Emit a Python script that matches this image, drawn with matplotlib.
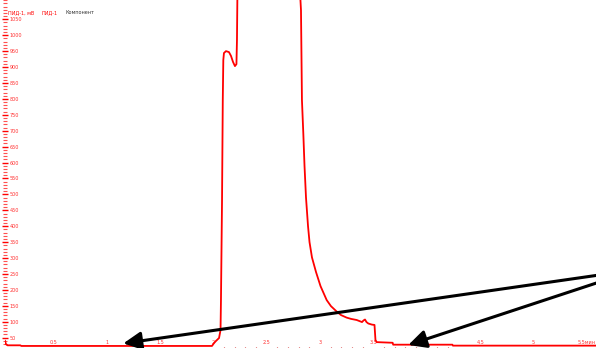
import numpy as np
import matplotlib
matplotlib.use('Agg')
import matplotlib.pyplot as plt
from matplotlib.ticker import MultipleLocator, FixedLocator

# chromatogram trace (time in min, signal in mV)
time_min = [0.047, 0.055, 0.07, 0.19, 0.2, 1.0, 1.987, 2.006, 2.024, 2.053,
            2.067, 2.071, 2.081, 2.088, 2.093, 2.099, 2.118, 2.146, 2.165, 2.184,
            2.202, 2.216, 2.221, 2.23, 2.5, 2.81, 2.816, 2.821, 2.830, 2.843,
            2.854, 2.868, 2.887, 2.901, 2.924, 2.962, 3.004, 3.062, 3.102, 3.156,
            3.196, 3.249, 3.290, 3.343, 3.393, 3.407, 3.421, 3.435, 3.452, 3.486,
            3.510, 3.519, 3.53, 3.68, 3.685, 4.24, 4.245, 5.6]
signal_mv = [40, 30, 26, 26, 24, 24, 24, 33, 39.6, 48.9,
             74, 168, 482, 796, 922, 944, 950, 947, 935, 916,
             903, 909, 985, 1300, 3000, 1300, 1110, 1079, 796, 690,
             590, 490, 400, 350, 302, 256, 212, 168, 149, 132,
             121, 113, 109, 105.5, 99, 104, 107, 99, 94.5, 91,
             90, 43, 36, 34, 28, 28, 25, 25]

x_tick_values = [0.5, 1, 1.5, 2, 2.5, 3, 3.5, 4, 4.5, 5, 5.5]
x_tick_labels = ['0.5', '1', '1.5', '2', '2.5', '3', '3.5', '4', '4.5', '5', '5.5мин']
y_tick_values = list(range(50, 1051, 50))

header_texts = ['ПИД-1, мВ', 'ПИД-1', 'Компонент']
header_colors = ['red', 'red', '#333333']

arrow_tails = [(5.62, 247), (5.62, 225)]
arrow_heads = [(1.156, 32), (3.827, 27)]

W, H = 596, 348
fig = plt.figure(figsize=(W / 100, H / 100), dpi=100)
ax = fig.add_axes([5 / W, 1 / H, 591 / W, 347 / H])

ax.plot(time_min, signal_mv, color='red', linewidth=1.3)

ax.set_xlim(0.0469, 5.586)
ax.set_ylim(20.7, 1110.6)

for s in ax.spines.values():
    s.set_visible(False)

# y axis: ticks crossing the (hidden) spine, labels inside
ax.yaxis.set_major_locator(FixedLocator(y_tick_values))
ax.yaxis.set_minor_locator(MultipleLocator(10))
ax.tick_params(axis='y', which='major', direction='inout', length=4, width=1,
               color='red', labelcolor='#ff3030', labelsize=3.5, pad=-5.2)
ax.tick_params(axis='y', which='minor', direction='inout', length=2.6, width=0.8,
               color='#ff5050')
for lab in ax.get_yticklabels():
    lab.set_horizontalalignment('left')

# x axis: labels above the baseline
ax.set_xticks(x_tick_values)
ax.set_xticklabels(x_tick_labels)
ax.xaxis.set_minor_locator(FixedLocator(np.arange(2.0, 4.25, 0.1)))
ax.tick_params(axis='x', which='major', direction='out', length=0,
               labelcolor='#ff3030', labelsize=3.5, pad=-4.8)
ax.tick_params(axis='x', which='minor', direction='out', length=2, width=0.8,
               color='#cc2020')

x_pos = [8, 42, 66]
for txt, col, xp in zip(header_texts, header_colors, x_pos):
    fig.text(xp / W, 1 - 12.7 / H, txt, color=col, fontsize=3.5,
             ha='left', va='center')

for tail, head in zip(arrow_tails, arrow_heads):
    ax.annotate('', xy=head, xytext=tail,
                arrowprops=dict(arrowstyle='-|>,head_length=0.6,head_width=0.3',
                                mutation_scale=18, lw=2.2, color='black',
                                shrinkA=0, shrinkB=0),
                annotation_clip=False)

fig.savefig('out.png', dpi=100)
